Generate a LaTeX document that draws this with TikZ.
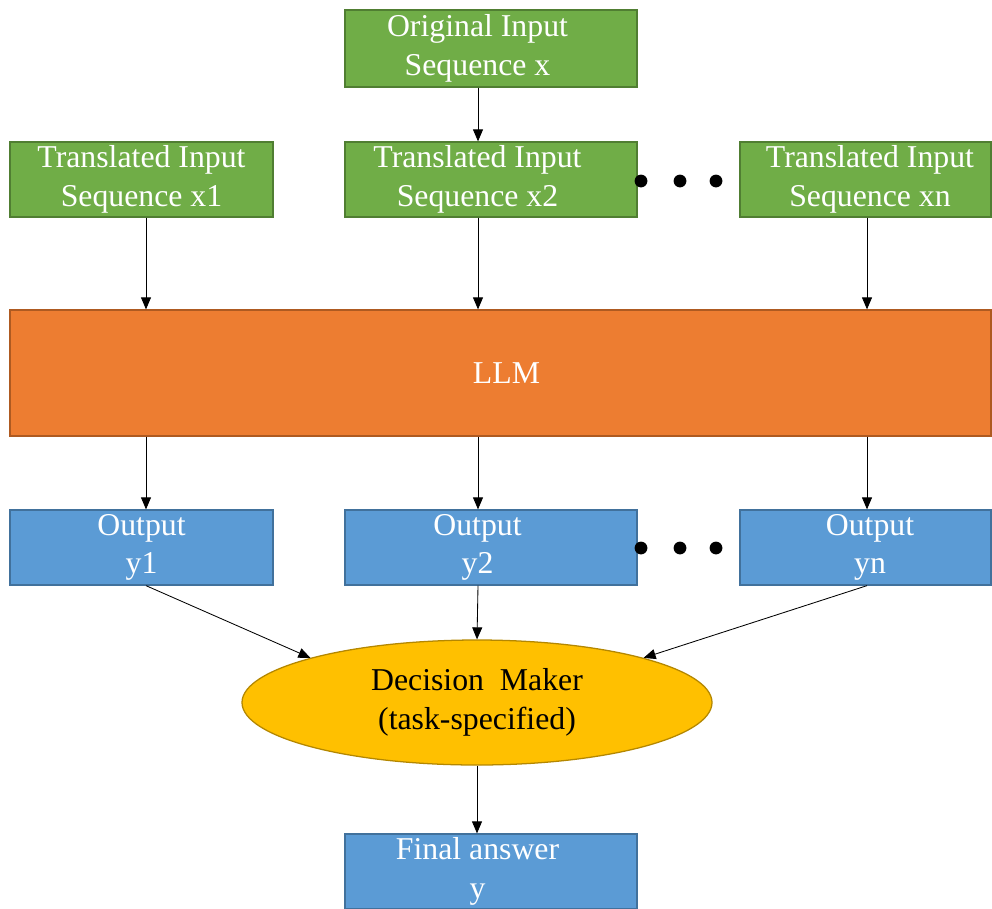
\documentclass[tikz,border=0pt]{standalone}
\usepackage{fontspec}
\setmainfont{Liberation Serif}
\usepackage{tikz}
\usetikzlibrary{arrows.meta,shapes.geometric}

\definecolor{ingreen}{RGB}{112,173,71}
\definecolor{ingreenline}{RGB}{80,126,50}
\definecolor{llmorange}{RGB}{237,125,49}
\definecolor{llmline}{RGB}{174,90,33}
\definecolor{outblue}{RGB}{91,155,213}
\definecolor{outline}{RGB}{65,113,156}
\definecolor{dmyellow}{RGB}{255,192,0}
\definecolor{dmline}{RGB}{180,135,0}

\def\pu{0.025cm}
\newlength{\pulen}
\setlength{\pulen}{0.025cm}
% pushes a centred line left (negative) or right (positive) by half the value
\newcommand{\lineshift}[1]{\hspace*{#1\pulen}}

\begin{document}
\begin{tikzpicture}[x=\pu, y=-\pu,
    box/.style={draw, line width=0.9pt, text=white, align=center,
      font=\fontsize{22.6}{27.5}\selectfont, inner sep=0pt},
    inbox/.style={box, fill=ingreen, draw=ingreenline},
    outbox/.style={box, fill=outblue, draw=outline},
    arr/.style={line width=0.6pt, -{Triangle[length=0.3cm,width=0.25cm]}}]
    \useasboundingbox (0,0) rectangle (992,908);
    % columns of the arrows
    \coordinate (col1) at (146,0);
    \coordinate (col2) at (478,0);
    \coordinate (coln) at (867,0);

    \node[inbox, minimum width=292*\pu, minimum height=77*\pu] (orig) at (491,48.5) {\lineshift{-27}Original Input\\\lineshift{-27}Sequence x};
    \node[inbox, minimum width=263*\pu, minimum height=75*\pu] (tin1) at (141.5,179.5) {Translated Input\\Sequence x1};
    \node[inbox, minimum width=292*\pu, minimum height=75*\pu] (tin2) at (491,179.5) {\lineshift{-27}Translated Input\\\lineshift{-27}Sequence x2};
    \node[inbox, minimum width=251*\pu, minimum height=75*\pu] (tinn) at (865.5,179.5) {\lineshift{9}Translated Input\\\lineshift{9}Sequence xn};

    \node[box, fill=llmorange, draw=llmline, minimum width=981*\pu, minimum height=126*\pu] (llm) at (500.5,373) {\lineshift{12}LLM};

    \node[outbox, minimum width=263*\pu, minimum height=75*\pu] (out1) at (141.5,547.5) {Output\\y1};
    \node[outbox, minimum width=292*\pu, minimum height=75*\pu] (out2) at (491,547.5) {\lineshift{-27}Output\\\lineshift{-27}y2};
    \node[outbox, minimum width=251*\pu, minimum height=75*\pu] (outn) at (865.5,547.5) {\lineshift{9}Output\\\lineshift{9}yn};

    \node[ellipse, draw=dmline, line width=0.9pt, fill=dmyellow, align=center, inner sep=0pt,
      font=\fontsize{22.6}{27.5}\selectfont, minimum width=470*\pu, minimum height=125*\pu] (dm) at (477,702.5) {Decision~~Maker\\(task-specified)};

    \node[outbox, minimum width=292*\pu, minimum height=75*\pu] (final) at (491,871.5) {\lineshift{-27}Final answer\\\lineshift{-27}y};

    % dots between the columns
    \foreach \xx in {641,680,716} {
      \fill (\xx,181) circle[radius=0.16cm];
      \fill (\xx,548) circle[radius=0.16cm];
    }

    \draw[arr] (orig.south -| col2) -- (tin2.north -| col2);
    \draw[arr] (tin1.south -| col1) -- (llm.north -| col1);
    \draw[arr] (tin2.south -| col2) -- (llm.north -| col2);
    \draw[arr] (tinn.south -| coln) -- (llm.north -| coln);
    \draw[arr] (llm.south -| col1) -- (out1.north -| col1);
    \draw[arr] (llm.south -| col2) -- (out2.north -| col2);
    \draw[arr] (llm.south -| coln) -- (outn.north -| coln);
    \draw[arr] (out1.south -| col1) -- (dm.165);
    \draw[arr] (out2.south -| col2) -- (dm.north);
    \draw[arr] (outn.south -| coln) -- (dm.15);
    \draw[arr] (dm.south) -- (final.north -| dm.south);
  \end{tikzpicture}
\end{document}
